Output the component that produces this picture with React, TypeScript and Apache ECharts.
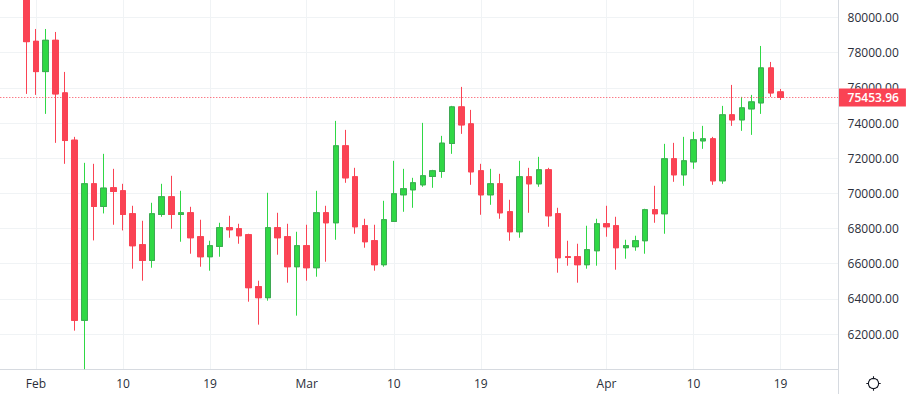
import React, { useEffect, useRef } from "react";
import * as echarts from "echarts";

const dates: string[] = [
  "01-31",
  ...Array.from({ length: 28 }, (_, i) => `02-${i + 1}`),
  ...Array.from({ length: 31 }, (_, i) => `03-${i + 1}`),
  ...Array.from({ length: 19 }, (_, i) => `04-${i + 1}`),
];
const xTickLabels: Record<string, string> = {
  "02-1": "Feb", "02-10": "10", "02-19": "19",
  "03-1": "Mar", "03-10": "10", "03-19": "19",
  "04-1": "Apr", "04-10": "10", "04-19": "19",
};
const opens = [
  81500, 78651, 76928, 78708, 75716, 73026, 62780, 70545, 69257, 70318, 70147, 68841, 67079, 66189, 68803, 69807, 68803, 68897, 67534, 66397,
  66984, 68045, 67988, 67647, 64693, 64068, 68045, 67534, 65829, 67022, 65772, 68897, 68329, 72704, 70943, 68159, 67307, 65943, 68405, 69920,
  70204, 70488, 70962, 71246, 72837, 74920, 73954, 71284, 69920, 70545, 68954, 67818, 70943, 70545, 71340, 68841, 66397, 66397, 65943, 66738,
  68272, 68159, 66909, 66966, 67307, 69068, 68841, 71966, 71057, 71795, 72988, 73102, 70716, 74466, 74182, 74807, 75148, 77136, 75773,
];
const closes = [
  78632, 76928, 78708, 75659, 73007, 62780, 70545, 69257, 70299, 70110, 68803, 67022, 66189, 68841, 69807, 68803, 68897, 67477, 66397, 67022,
  68045, 67931, 67590, 64636, 64068, 68045, 67477, 65829, 67022, 65772, 68897, 68329, 72704, 70886, 68102, 67250, 65943, 68500, 69977, 70261,
  70602, 71000, 71284, 72856, 74920, 73897, 71227, 69920, 70545, 68897, 67818, 70943, 70545, 71340, 68727, 66340, 66360, 65943, 66795, 68272,
  68102, 66909, 67022, 67307, 69068, 68841, 71966, 71057, 71852, 73045, 73102, 70716, 74466, 74182, 74864, 75204, 77136, 75716, 75453.96,
];
const lows = [
  75659, 75602, 74522, 72875, 71682, 62193, 60000, 67325, 68860, 68216, 67893, 65716, 65034, 65772, 68670, 67988, 67250, 66568, 65829, 65602,
  66397, 67477, 67136, 63840, 62534, 63897, 66511, 64920, 63045, 65034, 65261, 66113, 67363, 70602, 67704, 66909, 65602, 65829, 68405, 68954,
  69181, 70375, 70318, 70886, 72250, 73386, 70488, 68784, 69352, 68557, 67307, 67477, 68897, 70375, 68102, 65488, 65886, 64920, 65716, 65886,
  67534, 65659, 66284, 66738, 66568, 68329, 67704, 70659, 70432, 71397, 72534, 70488, 70545, 73841, 73557, 73329, 74522, 75489, 75318,
];
const highs = [
  82500, 79352, 79352, 79182, 76909, 73216, 71738, 71682, 72250, 71397, 70545, 69295, 68443, 69466, 70545, 71000, 70147, 69238, 68500, 67307,
  68329, 68727, 68272, 67704, 65034, 70034, 68897, 68272, 67818, 68216, 70147, 69295, 74125, 73613, 71454, 68557, 68216, 69579, 71852, 71397,
  70886, 74011, 71340, 73272, 74977, 76057, 74750, 71682, 71397, 71113, 69636, 71852, 71454, 72079, 71454, 69181, 67307, 67136, 68159, 68557,
  69295, 68670, 67363, 67591, 69125, 70432, 72818, 72875, 73216, 73500, 73841, 73216, 74977, 76170, 75489, 75602, 78386, 77477, 75943,
];
const lastPrice = 75453.96;
const paddingBefore = 3;
const paddingAfter = 6;

const SUN_PATH =
  "M12 3.5a8.5 8.5 0 1 0 0 17a8.5 8.5 0 1 0 0-17zM12 0v3.5M12 20.5v3.5M0 12h3.5M20.5 12h3.5M5 5l1.2 1.2M17.8 17.8l1.2 1.2M5 19l1.2-1.2M17.8 6.2l1.2-1.2";
echarts.graphic.registerShape("sunIcon", echarts.graphic.extendPath(SUN_PATH, {}) as any);

const UP = "#2fd845";
const UP_BORDER = "#3fa854";
const DOWN = "#fa4354";
const GRID = "#f0f3f5";
const EDGE = "#d6dae0";
const TEXT = "#2a2e39";
const FONT = "Open Sans";
const SHIFT = 3; // the chart's div starts this far left of the page, so the first band can fall off the edge

export default function App() {
  const ref = useRef<HTMLDivElement>(null);
  useEffect(() => {
    const chart = echarts.init(ref.current!, undefined, { renderer: "svg" });
    const blanks = (n: number) => Array.from({ length: n }, () => "-" as any);
    const categories = [
      ...Array.from({ length: paddingBefore }, (_, i) => `pre${i}`),
      ...dates,
      ...Array.from({ length: paddingAfter }, (_, i) => `post${i}`),
    ];
    const pad = (rows: any[]) => [...blanks(paddingBefore), ...rows, ...blanks(paddingAfter)];
    const wicks = pad(dates.map((_, i) => [opens[i], closes[i], lows[i], highs[i]]));
    const bodies = pad(
      dates.map((_, i) => {
        const top = Math.max(opens[i], closes[i]);
        const bottom = Math.min(opens[i], closes[i]);
        return [opens[i], closes[i], bottom, top];
      })
    );
    const showTick = (_: number, v: string) => v in xTickLabels;
    chart.setOption({
      animation: false,
      backgroundColor: "#ffffff",
      grid: { left: SHIFT - 2.7, top: 0, width: 841.3, height: 369.2, containLabel: false },
      xAxis: {
        type: "category",
        data: categories,
        boundaryGap: false,
        axisLine: { lineStyle: { color: EDGE, width: 1 } },
        axisTick: { show: false },
        axisLabel: {
          interval: showTick,
          formatter: (v: string) => xTickLabels[v] ?? "",
          color: TEXT,
          fontFamily: FONT,
          fontSize: 12,
          margin: 8,
        },
        splitLine: { show: true, interval: showTick, lineStyle: { color: GRID, width: 1 } },
      },
      yAxis: {
        type: "value",
        position: "right",
        min: 60000,
        max: 81000,
        interval: 2000,
        axisLine: { show: false },
        axisTick: { show: false },
        axisLabel: {
          showMinLabel: false,
          showMaxLabel: false,
          formatter: (v: number) => v.toFixed(2),
          color: TEXT,
          fontFamily: FONT,
          fontSize: 12,
          margin: 9,
          align: "left",
          padding: [0, 0, 2, 0],
        },
        splitLine: { show: true, showMinLine: false, showMaxLine: false, lineStyle: { color: GRID, width: 1 } },
      },
      series: [
        {
          type: "candlestick",
          data: wicks,
          barWidth: 6,
          itemStyle: { color: UP, color0: DOWN, borderColor: UP, borderColor0: DOWN, borderWidth: 1 },
          markLine: {
            symbol: "none",
            silent: true,
            animation: false,
            lineStyle: { color: DOWN, type: [1, 2], width: 1 },
            label: {
              show: true,
              position: "end",
              distance: 0,
              formatter: () => lastPrice.toFixed(2),
              color: "#ffffff",
              backgroundColor: DOWN,
              fontFamily: FONT,
              fontSize: 12,
              fontWeight: 600,
              padding: [3, 7, 3, 9],
            },
            data: [{ yAxis: lastPrice }],
          },
        },
        {
          type: "candlestick",
          data: bodies,
          barWidth: 6,
          z: 3,
          itemStyle: { color: UP, color0: DOWN, borderColor: UP_BORDER, borderColor0: DOWN, borderWidth: 1 },
        },
      ],
      graphic: [
        { type: "line", z: 10, shape: { x1: 838.5 + SHIFT, y1: 0, x2: 838.5 + SHIFT, y2: 394 }, style: { stroke: EDGE, lineWidth: 1 } },
        {
          type: "sunIcon",
          z: 10,
          x: 866.3 + SHIFT,
          y: 376.3,
          scaleX: 0.6,
          scaleY: 0.6,
          style: { fill: "none", stroke: "#131722", lineWidth: 1.8 },
        },
      ],
    });
    return () => chart.dispose();
  }, []);
  return <div ref={ref} style={{ position: "fixed", left: -SHIFT, top: 0, width: 910 + SHIFT, height: 394 }} />;
}
